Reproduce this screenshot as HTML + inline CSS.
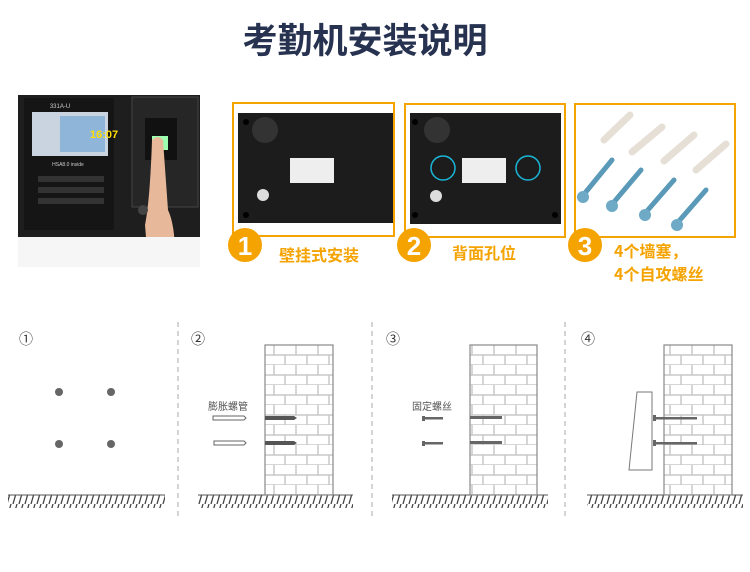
<!DOCTYPE html>
<html><head><meta charset="utf-8"><style>
body{margin:0;background:#fff;width:750px;height:567px;overflow:hidden;font-family:"Liberation Sans","Noto Sans CJK SC",sans-serif}
</style></head><body>
<svg width="750" height="567" xmlns="http://www.w3.org/2000/svg" font-family="Liberation Sans, Noto Sans CJK SC, sans-serif">
<defs>
<pattern id="brick" x="0" y="345" width="44" height="20" patternUnits="userSpaceOnUse">
<rect width="44" height="20" fill="#fff"/>
<path d="M0 10H44M0 20H44M10 0V10M32 0V10M21 10V20M43 10V20" stroke="#c8c8c8" stroke-width="1.5" fill="none"/>
</pattern>
<pattern id="hatch" width="6" height="14" patternUnits="userSpaceOnUse">
<path d="M5 0L1 14" stroke="#444" stroke-width="1.3"/>
</pattern>
</defs>
<text x="365" y="53" text-anchor="middle" font-size="35" font-weight="bold" fill="#263250" font-family="Noto Sans CJK SC, sans-serif">考勤机安装说明</text>

<!-- device -->
<rect x="18" y="95" width="182" height="142" fill="#1e1e1e"/>
<rect x="24" y="98" width="90" height="132" fill="#151515"/>
<rect x="32" y="112" width="76" height="44" fill="#c9d4e0"/>
<rect x="60" y="116" width="45" height="36" fill="#8fb6d9"/>
<text x="90" y="138" font-size="11" fill="#ffde00" font-weight="bold">16:07</text>
<text x="60" y="108" font-size="6" fill="#ccc" text-anchor="middle">331A-U</text>
<text x="68" y="166" font-size="5" fill="#ccc" text-anchor="middle">HSA8.0 inside</text>
<g fill="#333"><rect x="38" y="176" width="66" height="6"/><rect x="38" y="187" width="66" height="6"/><rect x="38" y="198" width="66" height="6"/></g>
<rect x="132" y="97" width="66" height="110" fill="#262626" stroke="#444"/>
<rect x="145" y="118" width="32" height="42" fill="#111"/>
<rect x="152" y="136" width="16" height="14" fill="#9dffb0"/>
<path d="M152 140 Q158 134 163 140 L168 210 Q175 225 175 255 L148 262 L145 225 Q150 200 152 140Z" fill="#e8b89a"/>
<circle cx="143" cy="210" r="5" fill="#444"/>
<rect x="18" y="237" width="182" height="30" fill="#f6f6f6"/>

<!-- boxes -->
<g fill="none" stroke="#f5a300" stroke-width="2">
<rect x="233" y="103" width="161" height="133"/>
<rect x="405" y="104" width="160" height="133"/>
<rect x="575" y="104" width="160" height="133"/>
</g>
<rect x="238" y="113" width="155" height="110" fill="#1c1c1c"/>
<rect x="410" y="113" width="151" height="111" fill="#1c1c1c"/>
<g fill="#333"><circle cx="265" cy="130" r="13"/><circle cx="437" cy="130" r="13"/></g>
<rect x="290" y="158" width="44" height="25" fill="#eee"/>
<rect x="462" y="158" width="44" height="25" fill="#eee"/>
<g fill="#000"><circle cx="246" cy="122" r="3"/><circle cx="246" cy="215" r="3"/><circle cx="415" cy="122" r="3"/><circle cx="415" cy="215" r="3"/><circle cx="555" cy="215" r="3"/></g>
<circle cx="263" cy="195" r="6" fill="#ddd"/><circle cx="436" cy="196" r="6" fill="#ddd"/>
<g fill="none" stroke="#1ab6d8" stroke-width="1.5"><circle cx="443" cy="168" r="12"/><circle cx="528" cy="168" r="12"/></g>
<!-- screws -->
<g stroke="#e6dfd6" stroke-width="7" stroke-linecap="round">
<line x1="604" y1="140" x2="630" y2="115"/><line x1="632" y1="152" x2="662" y2="127"/><line x1="664" y1="161" x2="694" y2="135"/><line x1="696" y1="170" x2="726" y2="144"/>
</g>
<g stroke="#5a9ab8" stroke-width="5" stroke-linecap="round">
<line x1="585" y1="193" x2="612" y2="160"/><line x1="614" y1="202" x2="641" y2="170"/><line x1="647" y1="211" x2="674" y2="180"/><line x1="679" y1="221" x2="706" y2="190"/>
</g>
<g fill="#6eaac6"><circle cx="583" cy="197" r="6"/><circle cx="612" cy="206" r="6"/><circle cx="645" cy="215" r="6"/><circle cx="677" cy="225" r="6"/></g>

<!-- badges -->
<g fill="#f5a300"><circle cx="245" cy="245" r="17"/><circle cx="414" cy="245" r="17"/><circle cx="585" cy="245" r="17"/></g>
<g fill="#fff" font-size="26" font-weight="bold" text-anchor="middle"><text x="245" y="255">1</text><text x="414" y="255">2</text><text x="585" y="255">3</text></g>
<g fill="#f5a300" font-size="16" font-weight="bold" font-family="Noto Sans CJK SC, sans-serif">
<text x="279" y="261">壁挂式安装</text><text x="452" y="259">背面孔位</text>
<text x="614" y="257">4个墙塞，</text><text x="614" y="280">4个自攻螺丝</text>
</g>

<!-- separators -->
<g stroke="#aaa" stroke-dasharray="5,4" stroke-width="1"><line x1="178" y1="322" x2="178" y2="520"/><line x1="372" y1="322" x2="372" y2="520"/><line x1="565" y1="322" x2="565" y2="520"/></g>
<g font-size="14" fill="#333"><text x="19" y="344">①</text><text x="191" y="344">②</text><text x="386" y="344">③</text><text x="581" y="344">④</text></g>
<g fill="#666"><circle cx="59" cy="392" r="4"/><circle cx="111" cy="392" r="4"/><circle cx="59" cy="444" r="4"/><circle cx="111" cy="444" r="4"/></g>

<!-- grounds -->
<g>
<rect x="8" y="495" width="157" height="13" fill="url(#hatch)"/><line x1="8" y1="495" x2="165" y2="495" stroke="#555"/>
<rect x="198" y="495" width="155" height="13" fill="url(#hatch)"/><line x1="198" y1="495" x2="353" y2="495" stroke="#555"/>
<rect x="392" y="495" width="156" height="13" fill="url(#hatch)"/><line x1="392" y1="495" x2="548" y2="495" stroke="#555"/>
<rect x="587" y="495" width="156" height="13" fill="url(#hatch)"/><line x1="587" y1="495" x2="743" y2="495" stroke="#555"/>
</g>
<!-- walls -->
<g stroke="#888" stroke-width="1.2">
<rect x="265" y="345" width="68" height="150" fill="url(#brick)"/>
<rect x="470" y="345" width="67" height="150" fill="url(#brick)"/>
<rect x="664" y="345" width="68" height="150" fill="url(#brick)"/>
</g>
<!-- panel2 -->
<text x="208" y="410" font-size="10" fill="#555">膨胀螺管</text>
<g fill="#fff" stroke="#666"><path d="M213 416H244L246 418L244 420H213Z"/><path d="M214 441H244L246 443L244 445H214Z"/></g>
<g fill="#555"><path d="M265 416H294L297 418L294 420H265Z"/><path d="M265 441H294L297 443L294 445H265Z"/></g>
<!-- panel3 -->
<text x="412" y="410" font-size="10" fill="#555">固定螺丝</text>
<g fill="#666"><rect x="422" y="416" width="3" height="5"/><rect x="425" y="417" width="18" height="2.5"/><rect x="422" y="441" width="3" height="5"/><rect x="425" y="442" width="18" height="2.5"/>
<rect x="470" y="416" width="32" height="3"/><rect x="470" y="441" width="32" height="3"/></g>
<!-- panel4 -->
<path d="M637 392H652V470H629Z" fill="#fff" stroke="#777"/>
<g fill="#666"><rect x="653" y="415" width="3" height="6"/><rect x="656" y="417" width="41" height="2.5"/><rect x="653" y="440" width="3" height="6"/><rect x="656" y="442" width="41" height="2.5"/></g>
</svg>
</body></html>
